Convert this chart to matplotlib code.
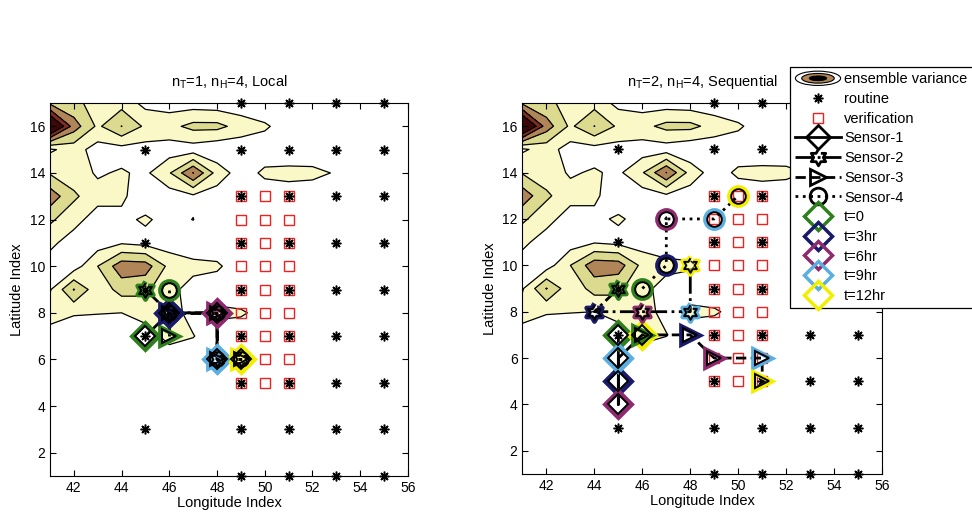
import numpy as np
import matplotlib
matplotlib.use('Agg')
import matplotlib.pyplot as plt
from matplotlib.lines import Line2D
from matplotlib.patches import Ellipse, Patch
from matplotlib.legend_handler import HandlerBase

plt.rcParams['font.family'] = ['Liberation Sans', 'DejaVu Sans']
plt.rcParams['mathtext.default'] = 'regular'

# grid of the ensemble variance field
lon = np.arange(41, 57)
lat = np.arange(1, 18)

# rows from lat 17 (top) down to lat 1, columns lon 41..56
variance_top_down = [
    [2.8, 2.2, 1.7, 1.6, 0.7, 0.5, 0.5, 0.4, 0.3, 0.2, 0.2, 0.2, 0.2, 0.2, 0.2, 0.2],
    [7.0, 3.5, 1.8, 3.02, 1.8, 1.7, 2.3, 2.3, 1.6, 1.15, 0.5, 0.2, 0.2, 0.2, 0.2, 0.2],
    [0.85, 1.4, 0.6, 0.6, 0.6, 0.5, 0.5, 0.2, 0.3, 0.4, 0.3, 0.2, 0.2, 0.2, 0.2, 0.2],
    [1.9, 1.4, 0.9, 1.1, 0.8, 1.9, 4.03, 1.6, 0.5, 1.2, 1.3, 1.3, 0.9, 0.3, 0.2, 0.2],
    [3.6, 2.2, 1.3, 1.15, 0.5, 0.5, 0.8, 0.5, 0.3, 0.4, 0.5, 0.3, 0.2, 0.2, 0.2, 0.2],
    [2.2, 1.3, 0.6, 0.8, 1.12, 0.7, 1.02, 0.3, 0.2, 0.2, 0.2, 0.2, 0.2, 0.2, 0.2, 0.2],
    [1.2, 0.6, 0.5, 0.9, 0.7, 0.5, 0.3, 0.2, 0.2, 0.2, 0.2, 0.2, 0.2, 0.2, 0.2, 0.2],
    [0.6, 0.5, 2.0, 3.6, 3.5, 1.7, 1.3, 1.2, 0.3, 0.2, 0.2, 0.2, 0.2, 0.2, 0.2, 0.2],
    [0.9, 3.05, 1.3, 2.4, 2.2, 1.3, 0.6, 0.3, 0.2, 0.2, 0.2, 0.2, 0.2, 0.2, 0.2, 0.2],
    [1.5, 1.1, 1.05, 1.0, 1.5, 1.5, 0.6, 1.3, 1.15, 0.6, 0.2, 0.2, 0.2, 0.2, 0.2, 0.2],
    [0.5, 0.3, 0.2, 0.3, 0.4, 1.4, 1.05, 0.3, 0.3, 0.2, 0.2, 0.2, 0.2, 0.2, 0.2, 0.2],
    [0.3, 0.2, 0.2, 0.2, 0.2, 0.3, 0.3, 0.2, 0.2, 0.2, 0.2, 0.2, 0.2, 0.2, 0.2, 0.2],
    [0.2, 0.2, 0.2, 0.2, 0.2, 0.2, 0.2, 0.2, 0.2, 0.2, 0.2, 0.2, 0.2, 0.2, 0.2, 0.2],
    [0.2, 0.2, 0.2, 0.2, 0.2, 0.2, 0.2, 0.2, 0.2, 0.2, 0.2, 0.2, 0.2, 0.2, 0.2, 0.2],
    [0.2, 0.2, 0.2, 0.2, 0.2, 0.2, 0.2, 0.2, 0.2, 0.2, 0.2, 0.2, 0.2, 0.2, 0.2, 0.2],
    [0.2, 0.2, 0.2, 0.2, 0.2, 0.2, 0.2, 0.2, 0.2, 0.2, 0.2, 0.2, 0.2, 0.2, 0.2, 0.2],
    [0.2, 0.2, 0.2, 0.2, 0.2, 0.2, 0.2, 0.2, 0.2, 0.2, 0.2, 0.2, 0.2, 0.2, 0.2, 0.2],
]
levels = [1, 2, 3, 4, 5, 100]
level_colors = ['#FAF8C6', '#DCDA8E', '#B08658', '#7E2C22', '#3E0808']

routine_lon = [49, 51, 53, 55, 45, 49, 51, 53, 55, 49, 51, 53, 55, 45, 49, 51, 53, 55,
               45, 49, 51, 53, 55, 45, 49, 51, 53, 55, 49, 51, 53, 55, 45, 49, 51, 53, 55,
               49, 51, 53, 55]
routine_lat = [17, 17, 17, 17, 15, 15, 15, 15, 15, 13, 13, 13, 13, 11, 11, 11, 11, 11,
               9, 9, 9, 9, 9, 7, 7, 7, 7, 7, 5, 5, 5, 5, 3, 3, 3, 3, 3,
               1, 1, 1, 1]

verif_lon = [49, 50, 51] * 9
verif_lat = [13] * 3 + [12] * 3 + [11] * 3 + [10] * 3 + [9] * 3 + [8] * 3 + [7] * 3 + [6] * 3 + [5] * 3

# sensor tracks at t = 0, 3, 6, 9, 12 hr
local_lon = [[45, 46, 48, 48, 49], [45, 46, 48, 48, 49], [46, 46, 48, 48, 49], [46, 46, 48, 48, 49]]
local_lat = [[7, 8, 8, 6, 6], [9, 8, 8, 6, 6], [7, 8, 8, 6, 6], [9, 8, 8, 6, 6]]
seq_lon = [[45, 45, 45, 45, 46], [45, 44, 46, 48, 48], [46, 48, 49, 51, 51], [46, 47, 47, 49, 50]]
seq_lat = [[7, 5, 4, 6, 7], [9, 8, 8, 8, 10], [7, 7, 6, 6, 5], [9, 10, 12, 12, 13]]

sensor_names = ['Sensor-1', 'Sensor-2', 'Sensor-3', 'Sensor-4']
time_names = ['t=0', 't=3hr', 't=6hr', 't=9hr', 't=12hr']
time_colors = ['#2F7F1F', '#1A1A6A', '#8E2A6E', '#5AAEE0', '#F2EE00']

ang = np.deg2rad(90 + 30 * np.arange(12))
rad = np.where(np.arange(12) % 2 == 0, 1.0, 0.577)
hexagram = list(zip(rad * np.cos(ang), rad * np.sin(ang)))
sensor_markers = ['D', hexagram, '>', 'o']
sensor_styles = ['-', '-.', '--', ':']


class VarianceHandler(HandlerBase):
    def create_artists(self, legend, orig_handle, xdescent, ydescent, width, height, fontsize, trans):
        cx = 0.5 * width - xdescent
        cy = 0.5 * height - ydescent
        out = []
        for sw, sh, fc in [(1.0, 1.4, 'white'), (0.72, 0.95, '#B08658'), (0.38, 0.45, 'black')]:
            out.append(Ellipse((cx, cy), width * sw, height * sh, facecolor=fc,
                               edgecolor='k', lw=0.8, transform=trans))
        return out


def draw_panel(ax, s_lon, s_lat, title):
    Z = np.flipud(np.array(variance_top_down))
    ax.contourf(lon, lat, Z, levels=levels, colors=level_colors)
    ax.contour(lon, lat, Z, levels=levels[:-1], colors='k', linewidths=0.9)
    ax.plot(verif_lon, verif_lat, ls='none', marker='s', ms=6.5, mfc='none', mec='#F02020',
            mew=1.0, clip_on=False, zorder=3)
    ax.plot(routine_lon, routine_lat, ls='none', marker=(8, 2, 0), ms=7, color='k',
            mew=1.1, clip_on=False, zorder=4)
    for i in range(4):
        ax.plot(s_lon[i], s_lat[i], color='k', ls=sensor_styles[i], lw=2, zorder=5)
        for t in range(5):
            ax.plot(s_lon[i][t], s_lat[i][t], ls='none', marker=sensor_markers[i], ms=13,
                    mfc='none', mec=time_colors[t], mew=3.4, zorder=6)
            ax.plot(s_lon[i][t], s_lat[i][t], ls='none', marker=sensor_markers[i], ms=10.5,
                    mfc='none', mec='k', mew=1.4, zorder=7)
    ax.set_xlim(41, 56)
    ax.set_ylim(1, 17)
    ax.set_xticks(range(42, 57, 2))
    ax.set_yticks(range(2, 17, 2))
    ax.tick_params(direction='in', top=True, right=True, length=4, labelsize=10)
    ax.set_xlabel('Longitude Index', fontsize=10.5, labelpad=1)
    ax.set_ylabel('Latitude Index', fontsize=10.5, labelpad=4)
    ax.set_title(title, fontsize=10.5, pad=12)


fig = plt.figure(figsize=(9.72, 5.13), dpi=100)
ax1 = fig.add_axes([0.0514, 0.0721, 0.3683, 0.7271])
ax2 = fig.add_axes([0.5375, 0.0760, 0.3700, 0.7232])
draw_panel(ax1, local_lon, local_lat, '$n_T$=1, $n_H$=4, Local')
draw_panel(ax2, seq_lon, seq_lat, '$n_T$=2, $n_H$=4, Sequential')

var_handle = Patch()
handles = [var_handle,
           Line2D([], [], ls='none', marker=(8, 2, 0), ms=7, color='k', mew=1.1),
           Line2D([], [], ls='none', marker='s', ms=6.5, mfc='none', mec='#F02020', mew=1.0)]
for i in range(4):
    handles.append(Line2D([], [], color='k', ls=sensor_styles[i], lw=2, marker=sensor_markers[i],
                          ms=12, mfc='none', mec='k', mew=2))
for t in range(5):
    handles.append(Line2D([], [], ls='none', marker='D', ms=14, mfc='none',
                          mec=time_colors[t], mew=2.5))
labels = ['ensemble variance', 'routine', 'verification'] + sensor_names + time_names

leg = fig.legend(handles, labels, loc='upper left', bbox_to_anchor=(783 / 972, 1 - 60 / 513),
                 fontsize=10.5, handlelength=3.1, handletextpad=0.25, borderpad=0.35,
                 labelspacing=0.39, fancybox=False, edgecolor='k', framealpha=1,
                 handler_map={var_handle: VarianceHandler()})
leg.get_frame().set_linewidth(0.9)

fig.savefig('out.png', dpi=100)
